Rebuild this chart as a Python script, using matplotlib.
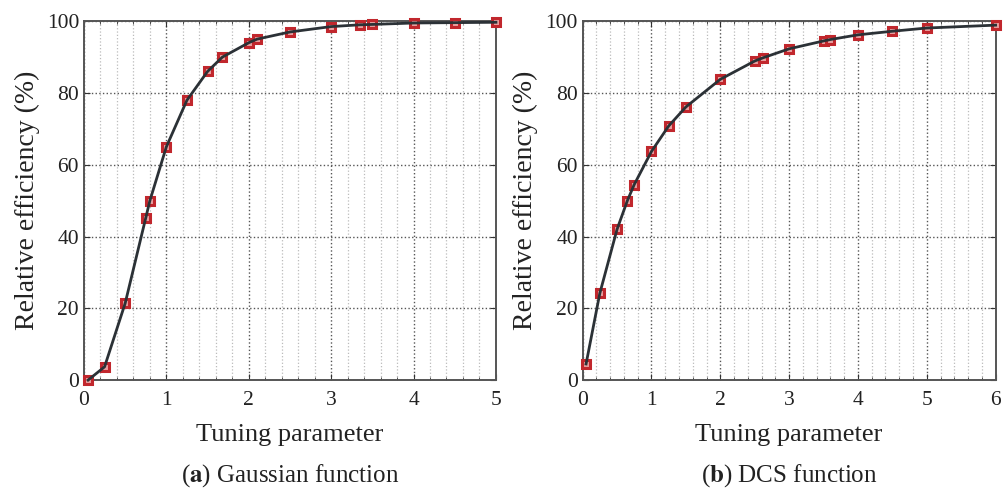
import numpy as np
import matplotlib
matplotlib.use("Agg")
import matplotlib.pyplot as plt
from matplotlib.ticker import MultipleLocator

plt.rcParams['font.family'] = ['Liberation Serif', 'DejaVu Serif']
plt.rcParams['mathtext.fontset'] = 'stix'

# (a) Gaussian function
gauss_x = [0.05, 0.25, 0.5, 0.75, 0.8, 1.0, 1.25, 1.5, 1.68, 2.0, 2.1, 2.5,
           3.0, 3.35, 3.5, 4.0, 4.5, 5.0]
gauss_y = [0.0, 3.7, 21.4, 45.2, 50.0, 65.0, 78.0, 86.0, 90.0, 94.0, 95.0,
           97.0, 98.5, 99.0, 99.1, 99.5, 99.6, 99.7]

# (b) DCS function
dcs_x = [0.05, 0.25, 0.5, 0.65, 0.75, 1.0, 1.25, 1.5, 2.0, 2.5, 2.62, 3.0,
         3.5, 3.6, 4.0, 4.5, 5.0, 6.0]
dcs_y = [4.5, 24.2, 42.0, 50.0, 54.5, 63.7, 70.8, 76.1, 83.8, 88.9, 89.8,
         92.3, 94.5, 94.9, 96.2, 97.2, 98.1, 98.9]

panels = [
    (gauss_x, gauss_y, 5, 'a', 'Gaussian function'),
    (dcs_x, dcs_y, 6, 'b', 'DCS function'),
]

line_col = '#2b3136'
mark_col = '#c1272d'

fig = plt.figure(figsize=(10.08, 4.93), dpi=100)
lefts = [0.0833, 0.578]
width = [0.4087, 0.4097]

for i, (xs, ys, xmax, tag, name) in enumerate(panels):
    ax = fig.add_axes([lefts[i], 0.229, width[i], 0.728])
    # markers under the line, so the line shows through their centres
    ax.plot(xs, ys, ls='none', marker='s', ms=5.5, mfc='#e8a0a0',
            mec=mark_col, mew=2.2, zorder=3, clip_on=False)
    ax.plot(xs, ys, color=line_col, lw=2, zorder=4, clip_on=False)
    ax.set_xlim(0, xmax)
    ax.set_ylim(0, 100)
    ax.xaxis.set_major_locator(MultipleLocator(1))
    ax.xaxis.set_minor_locator(MultipleLocator(0.2))
    ax.yaxis.set_major_locator(MultipleLocator(20))
    ax.grid(which='major', linestyle=':', color='#555555', lw=1.0)
    ax.grid(which='minor', axis='x', linestyle=':', color='#bbbbbb', lw=0.9)
    ax.tick_params(which='both', direction='in', top=True, right=True,
                   labelsize=15.5, colors='#333333', labelcolor='#222222')
    ax.tick_params(which='major', length=4)
    ax.tick_params(which='minor', length=2)
    ax.tick_params(axis='x', which='major', pad=8)
    for sp in ax.spines.values():
        sp.set_color('#555555')
        sp.set_linewidth(1.4)
    ax.set_xlabel('Tuning parameter', fontsize=19, color='#222222', labelpad=10)
    ax.set_ylabel('Relative efficiency (%)', fontsize=20, color='#222222',
                  labelpad=5)
    cx = lefts[i] + width[i] / 2
    fig.text(cx, 0.008, r'($\mathbf{' + tag + r'}$) ' + name, ha='center',
             va='bottom', fontsize=18, color='#222222')

fig.savefig('out.png', dpi=100)
